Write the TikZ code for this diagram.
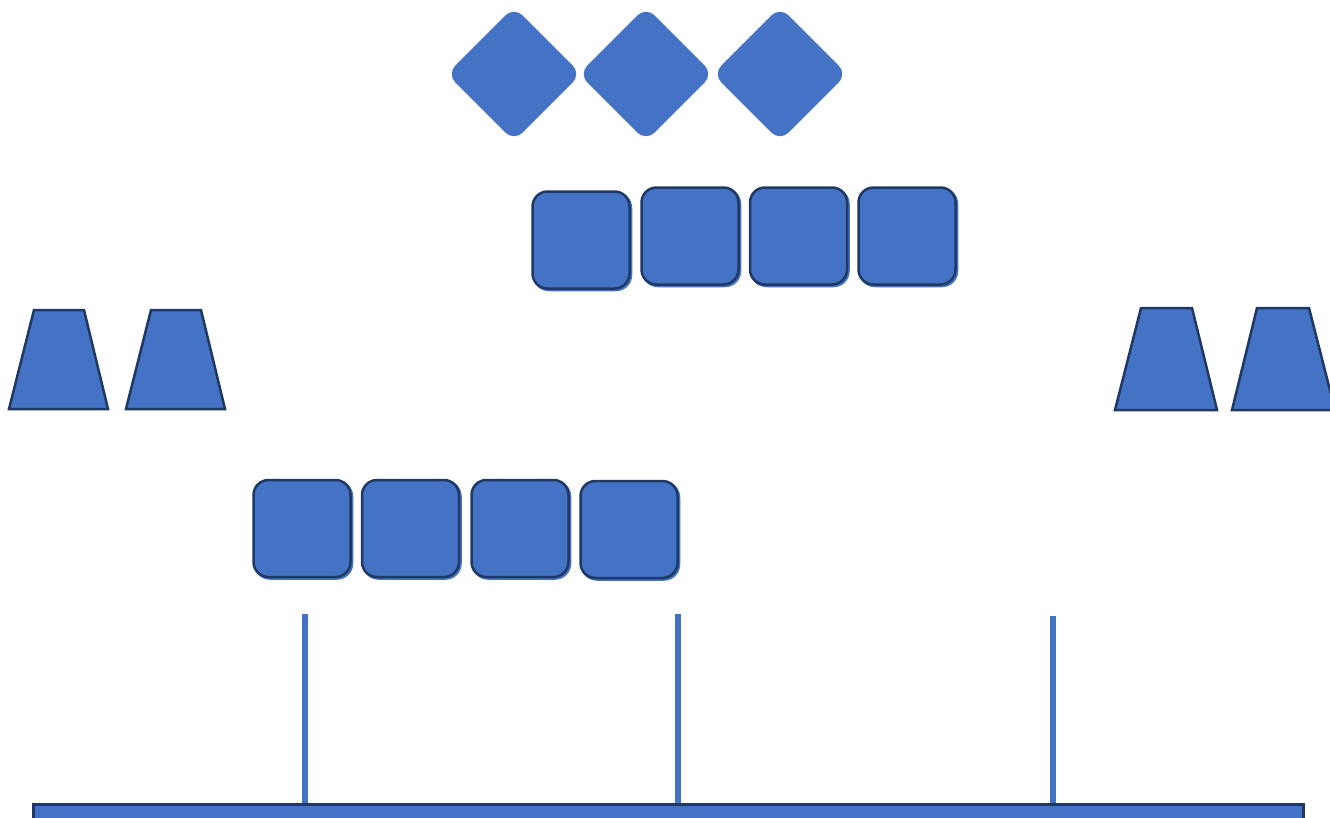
\documentclass[tikz,border=0pt]{standalone}
\usetikzlibrary{calc}
\definecolor{fillblue}{HTML}{4472C4}
\definecolor{darkline}{HTML}{1F3864}
\tikzset{
  dia/.style={rectangle, rotate=45, minimum width=95pt, minimum height=95pt, rounded corners=12pt, fill=fillblue, inner sep=0pt},
  sq/.style={rectangle, minimum width=97pt, minimum height=97pt, rounded corners=15pt, fill=fillblue, draw=darkline, line width=2.5pt, inner sep=0pt,
    preaction={fill=fillblue, draw=fillblue, line width=2.5pt, transform canvas={shift={(1.5pt,-1.5pt)}}}},
  trap/.style={fill=fillblue, draw=darkline, line width=2.5pt, line join=miter},
  post/.style={draw=fillblue, line width=5.5pt},
  bar/.style={fill=fillblue, draw=darkline, line width=2.5pt}
}
\begin{document}
\begin{tikzpicture}[x=1pt,y=-1pt]
\useasboundingbox (0,0) rectangle (1330,817);
\clip (0,0) rectangle (1330,817);
% diamonds
\node[dia] (d1) at (514,74) {};
\node[dia] (d2) at (646,74) {};
\node[dia] (d3) at (780,74) {};
% top squares
\node[sq] (t1) at (581,240) {};
\node[sq] (t2) at (690,236) {};
\node[sq] (t3) at (798.5,236) {};
\node[sq] (t4) at (907,236) {};
% bottom squares
\node[sq] (b1) at (302,528.5) {};
\node[sq] (b2) at (410.5,528.5) {};
\node[sq] (b3) at (520,528.5) {};
\node[sq] (b4) at (629,529.5) {};
% trapezoids
\draw[trap] (9,409) -- (34,310) -- (84,310) -- (108,409) -- cycle;
\draw[trap] (126,409) -- (151,310) -- (201,310) -- (225,409) -- cycle;
\draw[trap] (1115,410) -- (1141,308) -- (1192,308) -- (1217,410) -- cycle;
\draw[trap] (1232,410) -- (1257,308) -- (1309,308) -- (1335,410) -- cycle;
% bottom bar
\node[bar, rectangle, minimum width=1270pt, minimum height=30pt, inner sep=0pt, anchor=north west] (base) at (32,803) {};
% posts
\coordinate (p1) at (305,614);
\coordinate (p2) at (678,614);
\coordinate (p3) at (1053,616);
\draw[post] (p1) -- (p1 |- base.north);
\draw[post] (p2) -- (p2 |- base.north);
\draw[post] (p3) -- (p3 |- base.north);
\end{tikzpicture}
\end{document}
